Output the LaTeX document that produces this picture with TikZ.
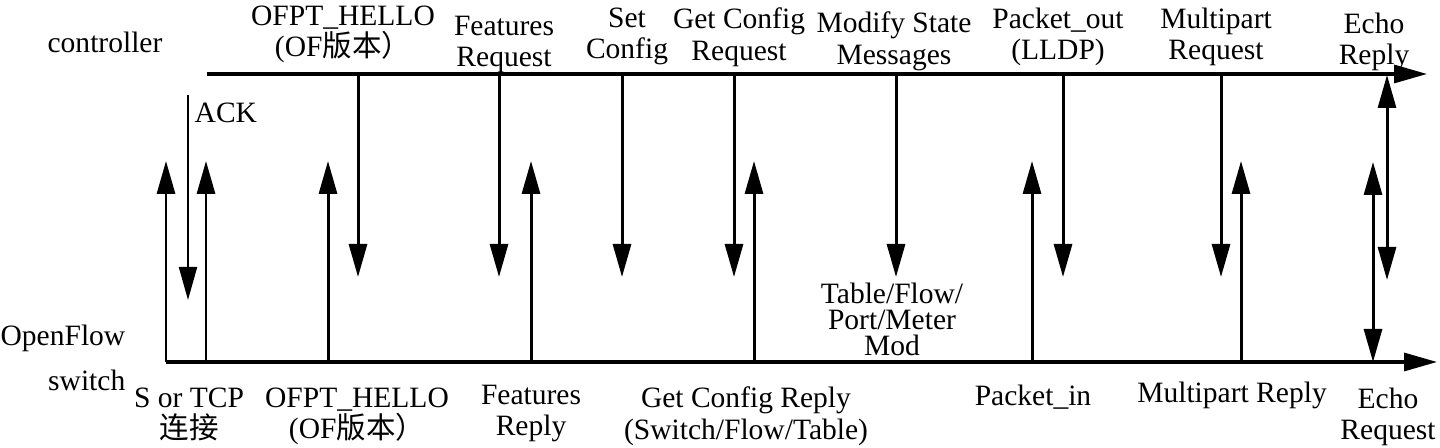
\documentclass[tikz,border=0pt]{standalone}
\usepackage{fontspec}
\setmainfont{Liberation Serif}
\newfontfamily\cjk{Noto Sans CJK SC}
\usetikzlibrary{arrows.meta}

\newcommand\lblfont{\fontsize{8.4pt}{9pt}\selectfont\lineskiplimit=-5pt\relax}
\newcommand\tightfont{\fontsize{8.4pt}{7.4pt}\selectfont\lineskiplimit=-5pt\relax}
\newcommand\widefont{\fontsize{8.4pt}{12.8pt}\selectfont}

\tikzset{
  Head/.tip={Triangle[length=3.3mm,width=1.8mm]},
  axis/.style={line width=0.9pt, -Head},
  msg/.style={line width=0.85pt, -Head},
  twoway/.style={line width=0.85pt, Head-Head},
  lbl/.style={inner sep=0pt, align=center, font=\lblfont},
}

\begin{document}
\begin{tikzpicture}[x=0.1mm, y=-0.1mm]
  \useasboundingbox (0,0) rectangle (1440,448);
  % time lines
  \coordinate (ctrlL) at (207,74);
  \coordinate (ctrlR) at (1427,74);
  \coordinate (swL) at (166,362);
  \coordinate (swR) at (1437,362);
  \draw[axis] (ctrlL) -- (ctrlR);
  \draw[axis] (swL) -- (swR);
  % controller -> switch
  \foreach \x [count=\i] in {358,499,622,734,896,1063,1221} {
    \coordinate (req\i) at (\x,74);
    \coordinate (reqend\i) at (\x,277);
    \draw[msg] (req\i) -- (reqend\i);
  }
  % switch -> controller
  \foreach \x [count=\i] in {166,206,328,531,754,1032,1241} {
    \coordinate (rep\i) at (\x,362);
    \coordinate (repend\i) at (\x,161);
    \draw[msg] (rep\i) -- (repend\i);
  }
  % ACK
  \coordinate (ackA) at (188,95);
  \coordinate (ackB) at (188,300);
  \draw[msg, line width=0.6pt] (ackA) -- (ackB);
  % echo
  \coordinate (echoA) at (1373,162);
  \coordinate (echoB) at (1373,362);
  \coordinate (echoC) at (1387,75);
  \coordinate (echoD) at (1387,280);
  \draw[twoway] (echoA) -- (echoB);
  \draw[twoway] (echoC) -- (echoD);
  % labels above
  \node[lbl, anchor=base] (ctrl) at (105,53) {controller};
  \node[lbl, anchor=base west] (ack) at (194,123) {ACK};
  \node[lbl, anchor=north] (hello) at (343,5) {OFPT\_HELLO\\(OF{\cjk 版本）}};
  \node[lbl, anchor=north] (featreq) at (504,15) {Features\\Request};
  \node[lbl, anchor=north] (setcfg) at (627,7) {Set\\Config};
  \node[lbl, anchor=north] (getcfg) at (739,7) {Get Config\\Request};
  \node[lbl, anchor=north] (modify) at (894,11) {Modify State\\Messages};
  \node[lbl, anchor=north] (pktout) at (1058,7) {Packet\_out\\(LLDP)};
  \node[lbl, anchor=north] (mpreq) at (1216,7) {Multipart\\Request};
  \node[lbl, anchor=north] (echorep) at (1374,12) {Echo\\Reply};
  % labels below
  \node[lbl, anchor=north east, align=right, font=\widefont] (switch) at (126,324) {OpenFlow\\switch};
  \node[lbl, anchor=north] (tcp) at (189,387) {S or TCP\\{\cjk 连接}};
  \node[lbl, anchor=north] (helloback) at (357,387) {OFPT\_HELLO\\(OF{\cjk 版本）}};
  \node[lbl, anchor=north] (featrep) at (531,384) {Features\\Reply};
  \node[lbl, anchor=north] (getrep) at (746,386) {Get Config Reply\\(Switch/Flow/Table)};
  \node[lbl, anchor=north, font=\tightfont] (mod) at (892,282) {Table/Flow/\\Port/Meter\\Mod};
  \node[lbl, anchor=north] (pktin) at (1033,384) {Packet\_in};
  \node[lbl, anchor=north] (mprep) at (1232,381) {Multipart Reply};
  \node[lbl, anchor=north] (echoreq) at (1388,387) {Echo\\Request};
\end{tikzpicture}
\end{document}
